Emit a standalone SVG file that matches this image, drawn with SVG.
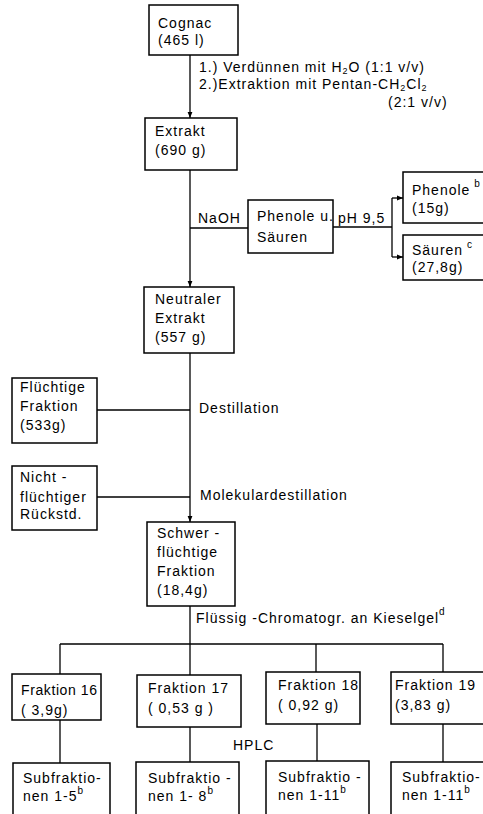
<svg xmlns="http://www.w3.org/2000/svg" width="483" height="814" viewBox="0 0 483 814">
<defs>
<style>
.box{fill:#fff;stroke:#000;stroke-width:1.5}
.ln{fill:none;stroke:#000;stroke-width:1.3}
text{font-family:"Liberation Sans",Arial,sans-serif;font-size:14px;letter-spacing:1px;fill:#000}
.sup{font-size:10px}
.sub{font-size:9px}
.tight{letter-spacing:0.6px}
</style>
<marker id="ah" viewBox="0 0 10 10" refX="10" refY="5" markerWidth="6" markerHeight="6" orient="auto" markerUnits="userSpaceOnUse">
<path d="M0,1 L10,5 L0,9 Z" fill="#000"/>
</marker>
</defs>
<rect width="483" height="814" fill="#fff"/>
<g id="connectors">
<line class="ln" x1="190" y1="55" x2="190" y2="118" marker-end="url(#ah)"/>
<line class="ln" x1="190" y1="170" x2="190" y2="287" marker-end="url(#ah)"/>
<line class="ln" x1="190" y1="228" x2="248" y2="228"/>
<line class="ln" x1="333" y1="227" x2="392" y2="227"/>
<polyline class="ln" points="392,198 392,257"/>
<line class="ln" x1="392" y1="198" x2="403" y2="198" marker-end="url(#ah)"/>
<line class="ln" x1="392" y1="257" x2="403" y2="257" marker-end="url(#ah)"/>
<line class="ln" x1="190" y1="353" x2="190" y2="522" marker-end="url(#ah)"/>
<line class="ln" x1="97" y1="410" x2="190" y2="410"/>
<line class="ln" x1="97" y1="497" x2="190" y2="497"/>
<line class="ln" x1="190" y1="606" x2="190" y2="644"/>
<line class="ln" x1="60" y1="644" x2="443" y2="644"/>
<line class="ln" x1="60" y1="644" x2="60" y2="674"/>
<line class="ln" x1="190" y1="644" x2="190" y2="675"/>
<line class="ln" x1="316" y1="644" x2="316" y2="672"/>
<line class="ln" x1="443" y1="644" x2="443" y2="672"/>
<line class="ln" x1="60" y1="720" x2="60" y2="763"/>
<line class="ln" x1="190" y1="727" x2="190" y2="762"/>
<line class="ln" x1="317" y1="724" x2="317" y2="761"/>
<line class="ln" x1="443" y1="724" x2="443" y2="762"/>
</g>
<g id="labels">
<text x="199" y="72">1.) Verdünnen mit H<tspan class="sub" dy="2">2</tspan><tspan dy="-2">O (1:1 v/v)</tspan></text>
<text x="199" y="89">2.)Extraktion mit Pentan-CH<tspan class="sub" dy="2">2</tspan><tspan dy="-2">Cl</tspan><tspan class="sub" dy="2">2</tspan></text>
<text x="388" y="107">(2:1 v/v)</text>
<text x="198" y="223">NaOH</text>
<text x="338" y="223">pH 9,5</text>
<text x="199" y="413">Destillation</text>
<text x="200" y="500">Molekulardestillation</text>
<text x="196" y="623">Flüssig -Chromatogr. an Kieselgel<tspan class="sup" dy="-8">d</tspan></text>
<text x="233" y="750">HPLC</text>
</g>
<g id="cognac"><rect class="box" x="149" y="5" width="89" height="50"/>
<text x="158" y="28">Cognac</text><text x="158" y="45">(465 l)</text></g>
<g id="extrakt"><rect class="box" x="145" y="118" width="92" height="52"/>
<text x="155" y="136">Extrakt</text><text x="155" y="155">(690 g)</text></g>
<g id="phenole-saeuren"><rect class="box" x="248" y="200" width="85" height="53"/>
<text x="257" y="221">Phenole u.</text><text x="257" y="242">Säuren</text></g>
<g id="phenole"><rect class="box" x="403" y="172" width="82" height="51"/>
<text x="412" y="195">Phenole<tspan class="sup" dy="-8"> b</tspan></text><text x="412" y="213">(15g)</text></g>
<g id="saeuren"><rect class="box" x="403" y="235" width="82" height="45"/>
<text x="412" y="255">Säuren<tspan class="sup" dy="-7"> c</tspan></text><text x="412" y="272">(27,8g)</text></g>
<g id="neutraler"><rect class="box" x="144" y="287" width="90" height="66"/>
<text x="155" y="304">Neutraler</text><text x="155" y="323">Extrakt</text><text x="155" y="342">(557 g)</text></g>
<g id="fluechtige"><rect class="box" x="12" y="378" width="85" height="65"/>
<text x="20" y="392">Flüchtige</text><text x="20" y="411">Fraktion</text><text x="20" y="430">(533g)</text></g>
<g id="nichtfluechtig"><rect class="box" x="12" y="466" width="85" height="64"/>
<text x="20" y="482">Nicht -</text><text x="20" y="502">flüchtiger</text><text x="20" y="519">Rückstd.</text></g>
<g id="schwerfluechtig"><rect class="box" x="147" y="522" width="88" height="84"/>
<text x="157" y="538">Schwer -</text><text x="157" y="557">flüchtige</text><text x="157" y="576">Fraktion</text><text x="157" y="595">(18,4g)</text></g>
<g id="f16"><rect class="box" x="12" y="674" width="89" height="46"/>
<text class="tight" x="21" y="695">Fraktion 16</text><text x="21" y="715">( 3,9g)</text></g>
<g id="f17"><rect class="box" x="137" y="675" width="104" height="52"/>
<text x="148" y="693">Fraktion 17</text><text x="148" y="713">( 0,53 g )</text></g>
<g id="f18"><rect class="box" x="266" y="672" width="94" height="52"/>
<text x="278" y="690">Fraktion 18</text><text x="278" y="710">( 0,92 g)</text></g>
<g id="f19"><rect class="box" x="391" y="672" width="94" height="52"/>
<text x="395" y="690">Fraktion 19</text><text x="395" y="710">(3,83 g)</text></g>
<g id="s16"><rect class="box" x="13" y="763" width="97" height="60"/>
<text x="23" y="783">Subfraktio-</text><text x="23" y="801">nen 1-5<tspan class="sup" dy="-7">b</tspan></text></g>
<g id="s17"><rect class="box" x="136" y="762" width="103" height="60"/>
<text x="148" y="783">Subfraktio -</text><text x="148" y="801">nen 1- 8<tspan class="sup" dy="-7">b</tspan></text></g>
<g id="s18"><rect class="box" x="266" y="761" width="103" height="60"/>
<text x="278" y="782">Subfraktio -</text><text x="278" y="800">nen 1-11<tspan class="sup" dy="-7">b</tspan></text></g>
<g id="s19"><rect class="box" x="391" y="762" width="94" height="60"/>
<text x="402" y="782">Subfraktio-</text><text x="402" y="800">nen 1-11<tspan class="sup" dy="-7">b</tspan></text></g>
</svg>
